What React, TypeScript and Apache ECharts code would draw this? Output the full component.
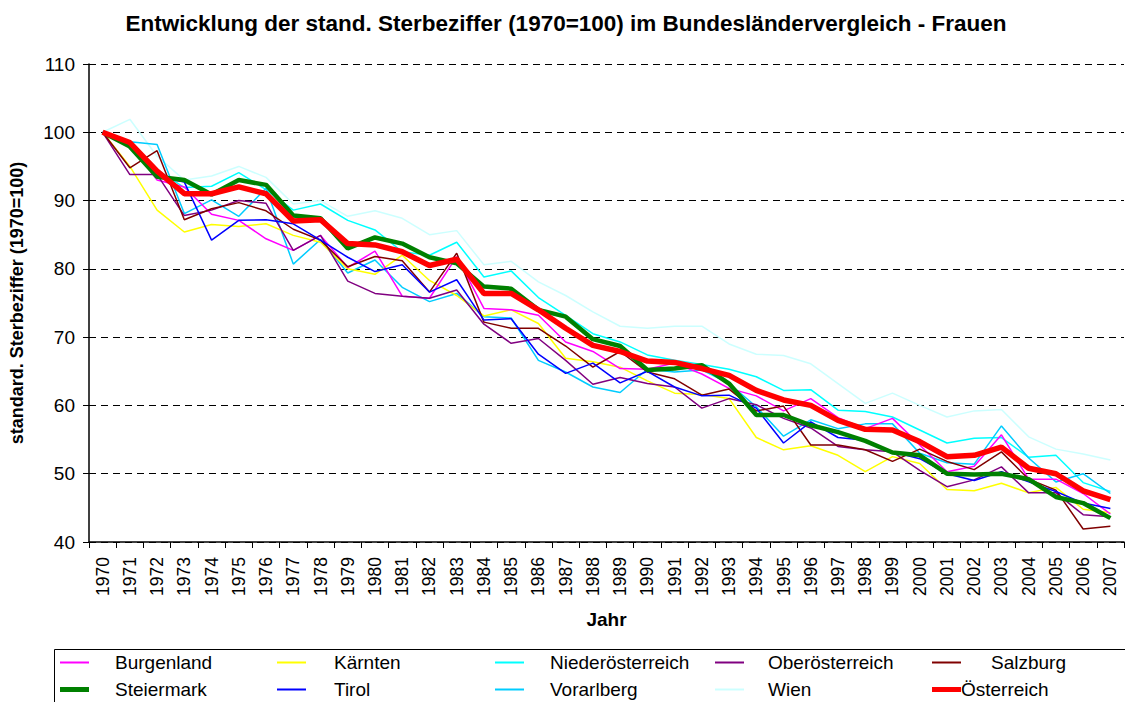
import React, { useEffect, useRef } from "react";
import * as echarts from "echarts";

const years = Array.from({ length: 38 }, (_, i) => String(1970 + i));

const burgenland = [100, 98.3, 93, 92, 88, 87.1, 84.4, 82.7, 84.9, 80.2, 82.6, 76, 75.7, 81.8, 74.2, 74, 73.2, 69.3, 67.9, 65.4, 65.3, 66.2, 64.6, 62.5, 61.4, 59.2, 61, 58.2, 56.6, 58.1, 54.2, 50.3, 51.1, 55.7, 49.2, 49.2, 47.1, 44.1];
const kaernten = [100, 95, 88.6, 85.4, 86.5, 86.2, 86.6, 84.9, 83.9, 80, 79.2, 82, 78.3, 76.1, 73.1, 74, 72, 66.9, 66.4, 65.6, 63.6, 61.8, 61.6, 61, 55.3, 53.5, 54.1, 52.7, 50.3, 52.5, 51.5, 47.7, 47.5, 48.6, 47.2, 48, 44.8, 44.3];
const niederoesterreich = [100, 98.5, 94.5, 91.9, 92.1, 94.1, 91.6, 88.6, 89.5, 87.1, 85.7, 82.5, 82, 83.9, 78.8, 79.7, 75.8, 73.2, 70.5, 69.3, 67.4, 66.6, 66, 65.3, 64.2, 62.2, 62.3, 59.3, 59.1, 58.3, 56.4, 54.5, 55.2, 55.3, 52.4, 52.7, 48.7, 47.4];
const oberoesterreich = [100, 93.8, 93.8, 87.8, 88.6, 90, 89.6, 82.7, 84.9, 78.2, 76.4, 76, 75.7, 76.9, 71.9, 69.1, 69.8, 66.6, 63.1, 64.1, 63.2, 62.7, 59.6, 61, 60.1, 58.1, 56.7, 54, 53.5, 53.2, 50.5, 48.1, 49.1, 51, 47.2, 47.2, 44, 43.7];
const salzburg = [100, 94.8, 97.3, 87.2, 88.8, 89.7, 88.5, 85.8, 84.2, 80.3, 81.8, 81.2, 76.6, 82.3, 72.2, 71.3, 71.3, 68.7, 65.6, 67.9, 64.9, 63.9, 61.5, 62.4, 59.2, 59.9, 54.2, 54.2, 53.5, 51.8, 53.6, 51.8, 50.6, 53.2, 49.2, 47.6, 41.9, 42.3];
const steiermark = [100, 97.9, 93.5, 93, 90.9, 93, 92.3, 87.8, 87.4, 83, 84.6, 83.7, 81.7, 80.8, 77.4, 77.1, 74, 73, 69.7, 68.7, 65.2, 65.4, 65.9, 63.2, 58.6, 58.6, 57.1, 56.1, 54.8, 53.1, 52.7, 50, 49.9, 50, 49.2, 46.6, 45.7, 43.5];
const tirol = [100, 98, 93.5, 92.7, 84.2, 87.1, 87.2, 86.6, 84.2, 81.7, 79.6, 80.6, 76.6, 78.4, 72.5, 72.7, 67.5, 64.7, 66.2, 63.3, 65, 62.7, 61.4, 61.5, 59.6, 54.5, 57.6, 55.3, 54.9, 53.2, 52.2, 50, 49, 50.3, 48.8, 47.4, 45.7, 44.9];
const vorarlberg = [100, 98.6, 98.2, 88.1, 90.1, 87.7, 91.8, 80.7, 84.3, 79.4, 81.3, 77.3, 75.2, 76.4, 73, 72.8, 66.6, 64.9, 62.7, 61.9, 65.3, 64.9, 65.2, 63.2, 59.8, 55.5, 57.9, 56.6, 57.3, 57.3, 53, 51.6, 51.4, 57, 52.3, 48.8, 50, 47.1];
const wien = [100, 101.9, 96.5, 93, 93.6, 95, 93.4, 89.5, 90, 87.7, 88.5, 87.4, 85, 85.6, 80.6, 81.1, 78.1, 76.1, 73.7, 71.6, 71.3, 71.6, 71.6, 69, 67.5, 67.3, 66.1, 63.2, 60.3, 61.8, 60, 58.3, 59.2, 59.4, 55.4, 53.6, 52.9, 52];
const oesterreich = [100, 98.5, 94.3, 91, 91, 92, 91, 87, 87.2, 83.7, 83.5, 82.5, 80.5, 81.4, 76.4, 76.4, 74, 71.3, 68.8, 67.9, 66.5, 66.3, 65.4, 64.4, 62.2, 60.8, 60, 57.8, 56.5, 56.4, 54.7, 52.5, 52.7, 53.9, 50.8, 50, 47.5, 46.2];

const FONT = "'Liberation Sans', Arial, sans-serif";

type S = { name: string; data: number[]; color: string; width: number };
const seriesDefs: S[] = [
  { name: "Wien", data: wien, color: "#CCFFFF", width: 1.5 },
  { name: "Niederösterreich", data: niederoesterreich, color: "#00FFFF", width: 1.5 },
  { name: "Vorarlberg", data: vorarlberg, color: "#00CCFF", width: 1.5 },
  { name: "Kärnten", data: kaernten, color: "#FFFF00", width: 1.5 },
  { name: "Burgenland", data: burgenland, color: "#FF00FF", width: 1.5 },
  { name: "Oberösterreich", data: oberoesterreich, color: "#800080", width: 1.5 },
  { name: "Salzburg", data: salzburg, color: "#800000", width: 1.5 },
  { name: "Tirol", data: tirol, color: "#0000FF", width: 1.5 },
  { name: "Steiermark", data: steiermark, color: "#008000", width: 4.5 },
  { name: "Österreich", data: oesterreich, color: "#FF0000", width: 5.5 },
];

// legend layout: [name, iconLeft, textGap, row, iconHeight]
const legendLayout: [string, number, number, number, number][] = [
  ["Burgenland", 60, 26, 0, 2],
  ["Kärnten", 277, 28, 0, 2],
  ["Niederösterreich", 495, 26, 0, 2],
  ["Oberösterreich", 715, 24, 0, 2],
  ["Salzburg", 932, 30, 0, 2],
  ["Steiermark", 60, 26, 1, 5],
  ["Tirol", 277, 28, 1, 2],
  ["Vorarlberg", 495, 26, 1, 2],
  ["Wien", 715, 24, 1, 2],
  ["Österreich", 932, 0, 1, 5],
];

export default function App() {
  const ref = useRef<HTMLDivElement>(null);
  useEffect(() => {
    document.body.style.margin = "0";
    const chart = echarts.init(ref.current!, null, { renderer: "svg" });
    const rowCenters = [664, 691];
    chart.setOption({
      animation: false,
      backgroundColor: "#fff",
      textStyle: { fontFamily: FONT },
      title: {
        text: "Entwicklung der stand. Sterbeziffer (1970=100) im Bundesländervergleich - Frauen",
        left: 561,
        top: 7,
        textAlign: "center",
        textStyle: { fontSize: 22.5, fontWeight: "bold", color: "#000", fontFamily: FONT },
      },
      grid: { left: 87, top: 64, right: 1, bottom: 160, containLabel: false },
      legend: legendLayout.map(([name, left, gap, row, h]) => ({
        data: [name],
        left,
        top: rowCenters[row] - 11,
        padding: 0,
        icon: "rect",
        itemWidth: 29,
        itemHeight: h,
        selectedMode: false,
        textStyle: {
          fontSize: 19,
          color: "#000",
          fontFamily: FONT,
          padding: [0, 0, 0, gap - 5],
        },
      })),
      graphic: [
        {
          type: "rect",
          shape: { x: 54.5, y: 649.5, width: 1100, height: 80 },
          style: { fill: "none", stroke: "#000", lineWidth: 1 },
          silent: true,
        },
      ],
      xAxis: {
        type: "category",
        data: years,
        boundaryGap: true,
        name: "Jahr",
        nameLocation: "middle",
        nameGap: 68,
        nameTextStyle: { fontSize: 19, fontWeight: "bold", color: "#000", fontFamily: FONT },
        axisLine: { lineStyle: { color: "#000", width: 1.5 } },
        axisTick: { show: true, length: 6, lineStyle: { color: "#000" } },
        axisLabel: { rotate: 90, fontSize: 17.5, color: "#000", margin: 15, interval: 0, fontFamily: FONT },
        splitLine: { show: false },
      },
      yAxis: {
        type: "value",
        min: 40,
        max: 110,
        interval: 10,
        name: "standard. Sterbeziffer (1970=100)",
        nameLocation: "middle",
        nameGap: 63,
        nameTextStyle: { fontSize: 18, fontWeight: "bold", color: "#000", fontFamily: FONT },
        axisLine: { show: true, lineStyle: { color: "#000", width: 1.5 } },
        axisTick: { show: true, length: 6, lineStyle: { color: "#000" } },
        axisLabel: { fontSize: 19, color: "#000", margin: 14, fontFamily: FONT },
        splitLine: { show: true, lineStyle: { color: "#000", type: [7, 5], width: 1 } },
      },
      series: seriesDefs.map((s) => ({
        name: s.name,
        type: "line",
        data: s.data,
        symbol: "none",
        color: s.color,
        lineStyle: { color: s.color, width: s.width },
        emphasis: { disabled: true },
      })),
    });
    return () => chart.dispose();
  }, []);
  return <div ref={ref} style={{ width: 1125, height: 702 }} />;
}
